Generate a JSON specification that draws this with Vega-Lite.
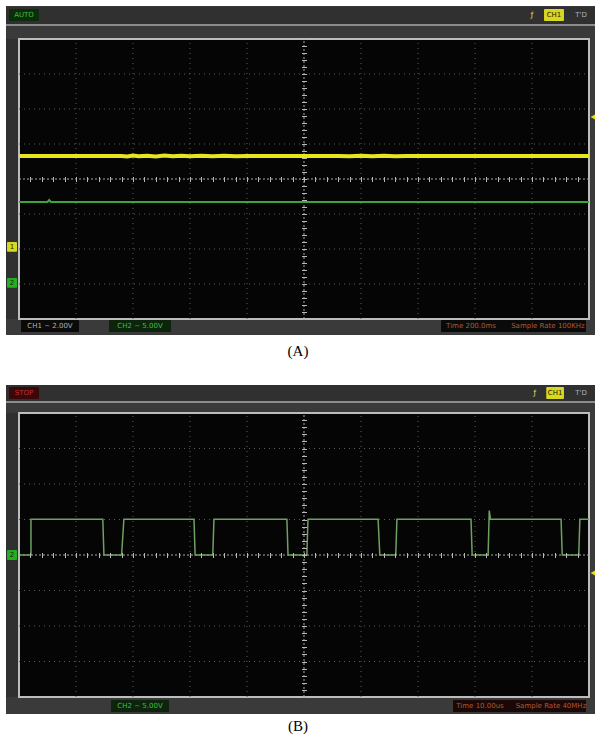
{
  "$schema": "https://vega.github.io/schema/vega-lite/v6.json",
  "padding": 0,
  "spacing": 0,
  "background": "white",
  "config": {"view": {"stroke": null}, "text": {"font": "DejaVu Sans"}},
  "vconcat": [
    {
      "width": 570,
      "height": 280,
      "resolve": {"axis": {"x": "independent", "y": "independent"}},
      "encoding": {
        "x": {"field": "x", "type": "quantitative", "scale": {"domain": [0, 10], "nice": false, "zero": false}, "axis": null},
        "y": {"field": "y", "type": "quantitative", "scale": {"domain": [-4, 4], "nice": false, "zero": false}, "axis": null}
      },
      "layer": [
        {"data": {"values": [{"x": -0.3158, "x2": 10.1228, "y": 5.086, "y2": -5.343}]},
         "mark": {"type": "rect", "fill": "white", "clip": false},
         "encoding": {"x2": {"field": "x2"}, "y2": {"field": "y2"}}},
        {"data": {"values": [{"x": -0.228, "x2": 10.123, "y": 4.943, "y2": -4.457}]},
         "mark": {"type": "rect", "fill": "#3a3a3a", "clip": false},
         "encoding": {"x2": {"field": "x2"}, "y2": {"field": "y2"}}},
        {"data": {"values": [{"x": -0.228, "x2": 10.123, "y": 4.914, "y2": 4.43}, {"x": -0.228, "x2": 0, "y": 4.0, "y2": -4.0}]},
         "mark": {"type": "rect", "fill": "#303030", "clip": false},
         "encoding": {"x2": {"field": "x2"}, "y2": {"field": "y2"}}},
        {"data": {"values": [{"x": -0.228, "x2": 10.123, "y": 4.4, "y2": 4.4}]},
         "mark": {"type": "rule", "stroke": "#8c8c8c", "strokeWidth": 2, "clip": false},
         "encoding": {"x2": {"field": "x2"}, "y2": {"field": "y2"}}},
        {"data": {"values": [{"x": 0, "x2": 10, "y": 4, "y2": -4}]},
         "mark": {"type": "rect", "fill": "#050505", "stroke": "#bdbdbd", "strokeWidth": 2, "clip": false},
         "encoding": {"x2": {"field": "x2"}, "y2": {"field": "y2"}}},
        {"data": {"values": [
          {"x": 1, "x2": 1, "y": -4, "y2": 4}, {"x": 2, "x2": 2, "y": -4, "y2": 4}, {"x": 3, "x2": 3, "y": -4, "y2": 4}, {"x": 4, "x2": 4, "y": -4, "y2": 4},
          {"x": 6, "x2": 6, "y": -4, "y2": 4}, {"x": 7, "x2": 7, "y": -4, "y2": 4}, {"x": 8, "x2": 8, "y": -4, "y2": 4}, {"x": 9, "x2": 9, "y": -4, "y2": 4},
          {"x": 0, "x2": 10, "y": -3, "y2": -3}, {"x": 0, "x2": 10, "y": -2, "y2": -2}, {"x": 0, "x2": 10, "y": -1, "y2": -1},
          {"x": 0, "x2": 10, "y": 1, "y2": 1}, {"x": 0, "x2": 10, "y": 2, "y2": 2}, {"x": 0, "x2": 10, "y": 3, "y2": 3}]},
         "mark": {"type": "rule", "stroke": "#5c5c5c", "strokeWidth": 1, "strokeDash": [1, 4]},
         "encoding": {"x2": {"field": "x2"}, "y2": {"field": "y2"}}},
        {"data": {"values": [{"x": 5, "x2": 5, "y": -4, "y2": 4}, {"x": 0, "x2": 10, "y": 0, "y2": 0}]},
         "mark": {"type": "rule", "stroke": "#a8a8a8", "strokeWidth": 1, "strokeDash": [2, 2]},
         "encoding": {
           "x": {"field": "x", "type": "quantitative", "scale": {"domain": [0, 10], "nice": false, "zero": false},
                 "axis": {"orient": "bottom", "offset": -142.5, "domain": false, "labels": false, "grid": false, "title": null, "tickCount": 50, "tickSize": 5, "tickColor": "#b8b8b8", "tickWidth": 1, "zindex": 1}},
           "y": {"field": "y", "type": "quantitative", "scale": {"domain": [-4, 4], "nice": false, "zero": false},
                 "axis": {"orient": "left", "offset": -287.5, "domain": false, "labels": false, "grid": false, "title": null, "tickCount": 40, "tickSize": 5, "tickColor": "#b8b8b8", "tickWidth": 1, "zindex": 1}},
           "x2": {"field": "x2"}, "y2": {"field": "y2"}}},
        {"data": {"values": [
          {"i": 0, "x": 0, "y": -0.657}, {"i": 1, "x": 0.5, "y": -0.657}, {"i": 2, "x": 0.53, "y": -0.6}, {"i": 3, "x": 0.56, "y": -0.657}, {"i": 4, "x": 10, "y": -0.657}]},
         "mark": {"type": "line", "stroke": "#3aa63a", "strokeWidth": 2},
         "encoding": {"order": {"field": "i", "type": "quantitative"}}},
        {"data": {"values": [
          {"i": 0, "x": 0, "y": 0.657}, {"i": 1, "x": 1.8, "y": 0.657}, {"i": 2, "x": 1.9, "y": 0.645}, {"i": 3, "x": 2.0, "y": 0.668},
          {"i": 4, "x": 2.1, "y": 0.647}, {"i": 5, "x": 2.25, "y": 0.666}, {"i": 6, "x": 2.4, "y": 0.646}, {"i": 7, "x": 2.55, "y": 0.668},
          {"i": 8, "x": 2.7, "y": 0.648}, {"i": 9, "x": 2.85, "y": 0.665}, {"i": 10, "x": 3.0, "y": 0.648}, {"i": 11, "x": 3.2, "y": 0.667},
          {"i": 12, "x": 3.4, "y": 0.647}, {"i": 13, "x": 3.6, "y": 0.665}, {"i": 14, "x": 3.8, "y": 0.649}, {"i": 15, "x": 4.0, "y": 0.657},
          {"i": 16, "x": 5.6, "y": 0.657}, {"i": 17, "x": 5.8, "y": 0.647}, {"i": 18, "x": 6.0, "y": 0.667}, {"i": 19, "x": 6.2, "y": 0.648},
          {"i": 20, "x": 6.4, "y": 0.665}, {"i": 21, "x": 6.6, "y": 0.649}, {"i": 22, "x": 6.8, "y": 0.657}, {"i": 23, "x": 10, "y": 0.657}]},
         "mark": {"type": "line", "stroke": "#e6e61e", "strokeWidth": 4},
         "encoding": {"order": {"field": "i", "type": "quantitative"}}},
        {"data": {"values": [
          {"x": -0.21, "x2": -0.035, "y": -1.8, "y2": -2.08, "k": "ylw"}, {"x": -0.21, "x2": -0.035, "y": -2.83, "y2": -3.11, "k": "grn"},
          {"x": -0.175, "x2": 0.351, "y": 4.857, "y2": 4.514, "k": "auto"}, {"x": 9.211, "x2": 9.561, "y": 4.857, "y2": 4.514, "k": "ylw"},
          {"x": 0.035, "x2": 1.053, "y": -4.029, "y2": -4.371, "k": "black"}, {"x": 1.579, "x2": 2.667, "y": -4.029, "y2": -4.371, "k": "dgreen"},
          {"x": 7.404, "x2": 9.947, "y": -4.029, "y2": -4.371, "k": "black"}]},
         "mark": {"type": "rect", "clip": false, "cornerRadius": 1},
         "encoding": {"x2": {"field": "x2"}, "y2": {"field": "y2"},
           "fill": {"field": "k", "type": "nominal", "legend": null,
             "scale": {"domain": ["ylw", "grn", "auto", "black", "dgreen", "stop", "dred"], "range": ["#d8d820", "#22b022", "#0d2b0d", "#0a0a0a", "#0c240c", "#3a0808", "#1a0707"]}}}},
        {"data": {"values": [{"x": 10.07, "y": 1.771}]},
         "mark": {"type": "point", "shape": "triangle-left", "filled": true, "size": 30, "color": "#e0e020", "opacity": 1, "clip": false}},
        {"data": {"values": [
          {"x": -0.123, "y": -1.94, "t": "1", "k": "d"}, {"x": -0.123, "y": -2.97, "t": "2", "k": "d"},
          {"x": 0.088, "y": 4.686, "t": "AUTO", "k": "g"}, {"x": 9.0, "y": 4.686, "t": "ƒ", "k": "y"},
          {"x": 9.386, "y": 4.686, "t": "CH1", "k": "d"}, {"x": 9.86, "y": 4.686, "t": "T'D", "k": "w"},
          {"x": 0.544, "y": -4.2, "t": "CH1 ~ 2.00V", "k": "w"}, {"x": 2.123, "y": -4.2, "t": "CH2 ~ 5.00V", "k": "g"},
          {"x": 7.93, "y": -4.2, "t": "Time 200.0ms", "k": "o"}, {"x": 9.28, "y": -4.2, "t": "Sample Rate 100KHz", "k": "o"}]},
         "mark": {"type": "text", "fontSize": 7, "align": "center", "baseline": "middle", "clip": false},
         "encoding": {"text": {"field": "t"},
           "color": {"field": "k", "type": "nominal", "legend": null,
             "scale": {"domain": ["g", "y", "d", "w", "o", "r"], "range": ["#3cc03c", "#e8e860", "#202000", "#b0b0b0", "#b05a30", "#c03030"]}}}},
        {"data": {"values": [{"x": 4.895, "y": -4.914, "t": "(A)"}]},
         "mark": {"type": "text", "font": "Liberation Serif", "fontSize": 15, "color": "#000000", "align": "center", "baseline": "middle", "clip": false},
         "encoding": {"text": {"field": "t"}}}
      ]
    },
    {
      "width": 570,
      "height": 284,
      "resolve": {"axis": {"x": "independent", "y": "independent"}},
      "encoding": {
        "x": {"field": "x", "type": "quantitative", "scale": {"domain": [0, 10], "nice": false, "zero": false}, "axis": null},
        "y": {"field": "y", "type": "quantitative", "scale": {"domain": [-4, 4], "nice": false, "zero": false}, "axis": null}
      },
      "layer": [
        {"data": {"values": [{"x": -0.3158, "x2": 10.1228, "y": 5.268, "y2": -5.155}]},
         "mark": {"type": "rect", "fill": "white", "clip": false},
         "encoding": {"x2": {"field": "x2"}, "y2": {"field": "y2"}}},
        {"data": {"values": [{"x": -0.228, "x2": 10.123, "y": 4.789, "y2": -4.479}]},
         "mark": {"type": "rect", "fill": "#3a3a3a", "clip": false},
         "encoding": {"x2": {"field": "x2"}, "y2": {"field": "y2"}}},
        {"data": {"values": [{"x": -0.228, "x2": 10.123, "y": 4.789, "y2": 4.338}, {"x": -0.228, "x2": 0, "y": 4.0, "y2": -4.0}]},
         "mark": {"type": "rect", "fill": "#303030", "clip": false},
         "encoding": {"x2": {"field": "x2"}, "y2": {"field": "y2"}}},
        {"data": {"values": [{"x": -0.228, "x2": 10.123, "y": 4.31, "y2": 4.31}]},
         "mark": {"type": "rule", "stroke": "#8c8c8c", "strokeWidth": 2, "clip": false},
         "encoding": {"x2": {"field": "x2"}, "y2": {"field": "y2"}}},
        {"data": {"values": [{"x": 0, "x2": 10, "y": 4, "y2": -4}]},
         "mark": {"type": "rect", "fill": "#050505", "stroke": "#bdbdbd", "strokeWidth": 2, "clip": false},
         "encoding": {"x2": {"field": "x2"}, "y2": {"field": "y2"}}},
        {"data": {"values": [
          {"x": 1, "x2": 1, "y": -4, "y2": 4}, {"x": 2, "x2": 2, "y": -4, "y2": 4}, {"x": 3, "x2": 3, "y": -4, "y2": 4}, {"x": 4, "x2": 4, "y": -4, "y2": 4},
          {"x": 6, "x2": 6, "y": -4, "y2": 4}, {"x": 7, "x2": 7, "y": -4, "y2": 4}, {"x": 8, "x2": 8, "y": -4, "y2": 4}, {"x": 9, "x2": 9, "y": -4, "y2": 4},
          {"x": 0, "x2": 10, "y": -3, "y2": -3}, {"x": 0, "x2": 10, "y": -2, "y2": -2}, {"x": 0, "x2": 10, "y": -1, "y2": -1},
          {"x": 0, "x2": 10, "y": 1, "y2": 1}, {"x": 0, "x2": 10, "y": 2, "y2": 2}, {"x": 0, "x2": 10, "y": 3, "y2": 3}]},
         "mark": {"type": "rule", "stroke": "#5c5c5c", "strokeWidth": 1, "strokeDash": [1, 4]},
         "encoding": {"x2": {"field": "x2"}, "y2": {"field": "y2"}}},
        {"data": {"values": [{"x": 5, "x2": 5, "y": -4, "y2": 4}, {"x": 0, "x2": 10, "y": 0, "y2": 0}]},
         "mark": {"type": "rule", "stroke": "#a8a8a8", "strokeWidth": 1, "strokeDash": [2, 2]},
         "encoding": {
           "x": {"field": "x", "type": "quantitative", "scale": {"domain": [0, 10], "nice": false, "zero": false},
                 "axis": {"orient": "bottom", "offset": -144.5, "domain": false, "labels": false, "grid": false, "title": null, "tickCount": 50, "tickSize": 5, "tickColor": "#b8b8b8", "tickWidth": 1, "zindex": 1}},
           "y": {"field": "y", "type": "quantitative", "scale": {"domain": [-4, 4], "nice": false, "zero": false},
                 "axis": {"orient": "left", "offset": -287.5, "domain": false, "labels": false, "grid": false, "title": null, "tickCount": 40, "tickSize": 5, "tickColor": "#b8b8b8", "tickWidth": 1, "zindex": 1}},
           "x2": {"field": "x2"}, "y2": {"field": "y2"}}},
        {"data": {"values": [
          {"i": 0, "x": 0, "y": 0}, {"i": 1, "x": 0.21, "y": 0}, {"i": 2, "x": 0.21, "y": 1.01}, {"i": 3, "x": 1.47, "y": 1.01}, {"i": 4, "x": 1.49, "y": 0},
          {"i": 5, "x": 1.8, "y": 0}, {"i": 6, "x": 1.84, "y": 1.01}, {"i": 7, "x": 3.07, "y": 1.01}, {"i": 8, "x": 3.09, "y": 0},
          {"i": 9, "x": 3.4, "y": 0}, {"i": 10, "x": 3.42, "y": 1.01}, {"i": 11, "x": 4.7, "y": 1.01}, {"i": 12, "x": 4.72, "y": 0},
          {"i": 13, "x": 5.05, "y": 0}, {"i": 14, "x": 5.07, "y": 1.01}, {"i": 15, "x": 6.3, "y": 1.01}, {"i": 16, "x": 6.33, "y": 0},
          {"i": 17, "x": 6.61, "y": 0}, {"i": 18, "x": 6.63, "y": 1.01}, {"i": 19, "x": 7.93, "y": 1.01}, {"i": 20, "x": 7.95, "y": 0},
          {"i": 21, "x": 8.23, "y": 0}, {"i": 22, "x": 8.25, "y": 1.25}, {"i": 23, "x": 8.27, "y": 1.01}, {"i": 24, "x": 9.51, "y": 1.01},
          {"i": 25, "x": 9.53, "y": 0}, {"i": 26, "x": 9.82, "y": 0}, {"i": 27, "x": 9.84, "y": 1.01}, {"i": 28, "x": 10, "y": 1.01}]},
         "mark": {"type": "line", "stroke": "#6fa062", "strokeWidth": 1.5},
         "encoding": {"order": {"field": "i", "type": "quantitative"}}},
        {"data": {"values": [
          {"x": -0.21, "x2": -0.035, "y": 0.14, "y2": -0.14, "k": "grn"},
          {"x": -0.175, "x2": 0.351, "y": 4.732, "y2": 4.394, "k": "stop"}, {"x": 9.25, "x2": 9.561, "y": 4.732, "y2": 4.394, "k": "ylw"},
          {"x": 1.614, "x2": 2.632, "y": -4.085, "y2": -4.423, "k": "dgreen"},
          {"x": 7.614, "x2": 9.947, "y": -4.085, "y2": -4.423, "k": "dred"}]},
         "mark": {"type": "rect", "clip": false, "cornerRadius": 1},
         "encoding": {"x2": {"field": "x2"}, "y2": {"field": "y2"},
           "fill": {"field": "k", "type": "nominal", "legend": null,
             "scale": {"domain": ["ylw", "grn", "auto", "black", "dgreen", "stop", "dred"], "range": ["#d8d820", "#22b022", "#0d2b0d", "#0a0a0a", "#0c240c", "#3a0808", "#1a0707"]}}}},
        {"data": {"values": [{"x": 10.07, "y": -0.507}]},
         "mark": {"type": "point", "shape": "triangle-left", "filled": true, "size": 30, "color": "#e0e020", "opacity": 1, "clip": false}},
        {"data": {"values": [
          {"x": -0.123, "y": 0, "t": "2", "k": "d"},
          {"x": 0.088, "y": 4.563, "t": "STOP", "k": "r"}, {"x": 9.05, "y": 4.563, "t": "ƒ", "k": "y"},
          {"x": 9.405, "y": 4.563, "t": "CH1", "k": "d"}, {"x": 9.86, "y": 4.563, "t": "T'D", "k": "w"},
          {"x": 2.123, "y": -4.254, "t": "CH2 ~ 5.00V", "k": "g"},
          {"x": 8.088, "y": -4.254, "t": "Time 10.00us", "k": "o"}, {"x": 9.333, "y": -4.254, "t": "Sample Rate 40MHz", "k": "o"}]},
         "mark": {"type": "text", "fontSize": 7, "align": "center", "baseline": "middle", "clip": false},
         "encoding": {"text": {"field": "t"},
           "color": {"field": "k", "type": "nominal", "legend": null,
             "scale": {"domain": ["g", "y", "d", "w", "o", "r"], "range": ["#3cc03c", "#e8e860", "#202000", "#b0b0b0", "#b05a30", "#c03030"]}}}},
        {"data": {"values": [{"x": 4.895, "y": -4.817, "t": "(B)"}]},
         "mark": {"type": "text", "font": "Liberation Serif", "fontSize": 15, "color": "#000000", "align": "center", "baseline": "middle", "clip": false},
         "encoding": {"text": {"field": "t"}}}
      ]
    }
  ]
}
